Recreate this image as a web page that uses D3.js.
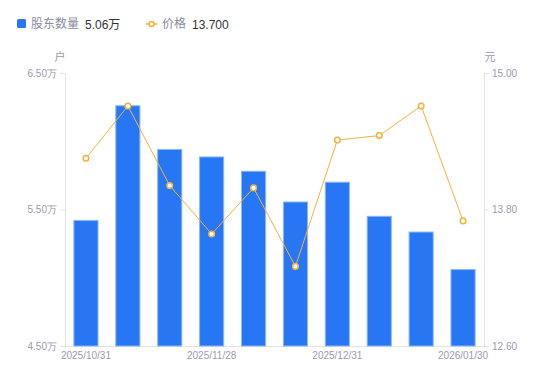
<!DOCTYPE html>
<html><head><meta charset="utf-8">
<script src="https://cdn.jsdelivr.net/npm/d3@7/dist/d3.min.js"></script>
<style>body{margin:0;background:#fff;} svg{display:block;font-family:"Liberation Sans","Noto Sans CJK SC",sans-serif;}</style>
</head><body><svg id="c" width="550" height="381"></svg>
<script>
const dates = ["2025/10/31","2025/11/10","2025/11/20","2025/11/28","2025/12/10","2025/12/19","2025/12/31","2026/01/09","2026/01/20","2026/01/30"];
const holders = [5.42,6.26,5.94,5.885,5.78,5.555,5.70,5.45,5.335,5.06];
const prices = [14.25,14.71,14.01,13.585,13.99,13.30,14.41,14.45,14.71,13.70];
const leftTicks = [4.5,5.5,6.5];
const rightTicks = [12.6,13.8,15.0];
const shownDates = ["2025/10/31","2025/11/28","2025/12/31","2026/01/30"];

const svg = d3.select("#c");
const L=65,R=484,T=73,B=346;
const x = d3.scaleBand().domain(dates).range([L,R]).paddingInner(0.4).paddingOuter(0.2);
const yL = d3.scaleLinear().domain([4.5,6.5]).range([B,T]);
const yR = d3.scaleLinear().domain([12.6,15.0]).range([B,T]);
const axisCol="#e3e3e6", txtCol="#9a9cae";

// axes
const gl = svg.append("g").attr("transform",`translate(${L},0)`)
  .call(d3.axisLeft(yL).tickValues(leftTicks).tickSize(5).tickPadding(3).tickFormat(d=>d.toFixed(2)+"万"));
const gr = svg.append("g").attr("transform",`translate(${R},0)`)
  .call(d3.axisRight(yR).tickValues(rightTicks).tickSize(5).tickPadding(3).tickFormat(d=>d.toFixed(2)));
const gb = svg.append("g").attr("transform",`translate(0,${B})`)
  .call(d3.axisBottom(x).tickValues(shownDates).tickSize(0).tickPadding(6));
[gl,gr,gb].forEach(g=>{
  g.selectAll("path,line").attr("stroke",axisCol);
  g.selectAll("text").attr("fill",txtCol).attr("font-size",10);
});
gb.select(".domain").attr("d",`M${L},0.5H${R}`);

// axis titles
svg.append("text").attr("x",60).attr("y",61).attr("text-anchor","middle").attr("fill",txtCol).attr("font-size",11).attr("font-family","Noto Sans CJK SC").text("户");
svg.append("text").attr("x",490).attr("y",61).attr("text-anchor","middle").attr("fill",txtCol).attr("font-size",11).attr("font-family","Noto Sans CJK SC").text("元");

// bars
svg.append("g").selectAll("rect").data(dates).join("rect")
  .attr("x",d=>x(d)+0.5).attr("width",x.bandwidth()-1)
  .attr("y",(d,i)=>yL(holders[i])).attr("height",(d,i)=>B-yL(holders[i]))
  .attr("fill","#2777f5").attr("stroke","#8db7fa").attr("stroke-width",1);

// line
const lineCol="#f7b13a";
const line = d3.line().x((d,i)=>x(dates[i])+x.bandwidth()/2).y(d=>yR(d));
svg.append("path").datum(prices).attr("d",line).attr("fill","none").attr("stroke",lineCol).attr("stroke-width",1);
svg.append("g").selectAll("circle").data(prices).join("circle")
  .attr("cx",(d,i)=>x(dates[i])+x.bandwidth()/2).attr("cy",d=>yR(d)).attr("r",2.8)
  .attr("fill","#fff").attr("stroke",lineCol).attr("stroke-width",1.5);

// legend
const lg = svg.append("g").attr("font-size",12);
lg.append("rect").attr("x",17).attr("y",19).attr("width",9).attr("height",9).attr("rx",1.5).attr("fill","#2777f5");
lg.append("text").attr("x",31).attr("y",28).attr("fill","#8a8c9c").attr("font-family","Noto Sans CJK SC").text("股东数量");
lg.append("text").attr("x",85).attr("y",28.5).attr("fill","#333").text(holders[holders.length-1].toFixed(2)+"万");
lg.append("line").attr("x1",146).attr("x2",157).attr("y1",24).attr("y2",24).attr("stroke",lineCol).attr("stroke-width",1.5);
lg.append("circle").attr("cx",151.5).attr("cy",24).attr("r",2.5).attr("fill","#fff").attr("stroke",lineCol).attr("stroke-width",1.5);
lg.append("text").attr("x",162).attr("y",28).attr("fill","#8a8c9c").attr("font-family","Noto Sans CJK SC").text("价格");
lg.append("text").attr("x",192).attr("y",28.5).attr("fill","#333").text(prices[prices.length-1].toFixed(3));
</script></body></html>
